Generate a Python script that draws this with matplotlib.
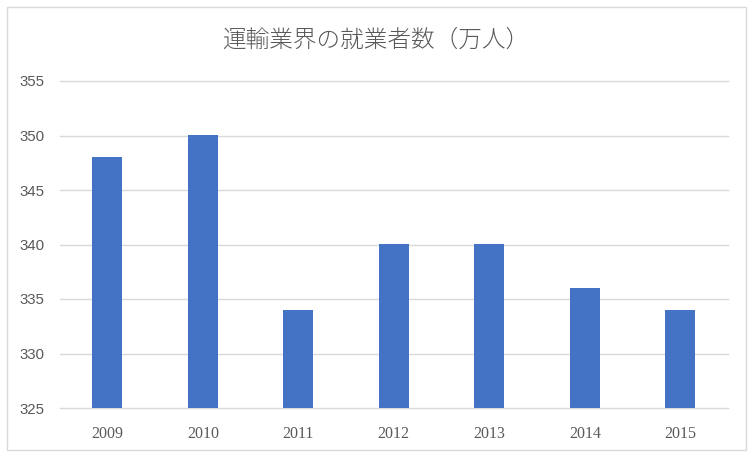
import matplotlib.pyplot as plt
from matplotlib.patches import Rectangle

years = ["2009", "2010", "2011", "2012", "2013", "2014", "2015"]
workers = [348, 350, 334, 340, 340, 336, 334]  # 万人
y_ticks = [325, 330, 335, 340, 345, 350, 355]

W, H = 752, 458
fig = plt.figure(figsize=(W / 100, H / 100), dpi=100)
ax = fig.add_axes([59.5 / W, 50 / H, (728 - 59.5) / W, 327 / H])

x = range(len(years))
ax.bar(x, [v - 325 for v in workers], bottom=325, width=0.313,
       color="#4472C4", zorder=3)

ax.set_xlim(-0.5, len(years) - 0.5)
ax.set_ylim(325, 355)
ax.set_yticks(y_ticks)
ax.set_yticklabels([str(t) for t in y_ticks], family="Liberation Sans",
                   fontsize=10.8, color="#595959")
ax.set_xticks(list(x))
ax.set_xticklabels(years, family="Liberation Serif", fontsize=11.5,
                   color="#595959")
ax.tick_params(axis="both", length=0)
ax.tick_params(axis="y", pad=11)
ax.tick_params(axis="x", pad=13)
for t in y_ticks:
    ax.axhline(t, color="#D9D9D9", linewidth=1, zorder=0, clip_on=False)
for s in ax.spines.values():
    s.set_visible(False)

fig.text(376 / W, 1 - 40 / H, "運輸業界の就業者数（万人）",
         family=["Noto Sans CJK JP", "DejaVu Sans"], fontweight="light",
         fontsize=17, color="#595959", ha="center", va="center")

fig.patches.append(Rectangle((7 / W, 1 - 450 / H), 739 / W, 443 / H,
                             transform=fig.transFigure, fill=False,
                             edgecolor="#D9D9D9", linewidth=1))

fig.savefig("out.png", dpi=100)
